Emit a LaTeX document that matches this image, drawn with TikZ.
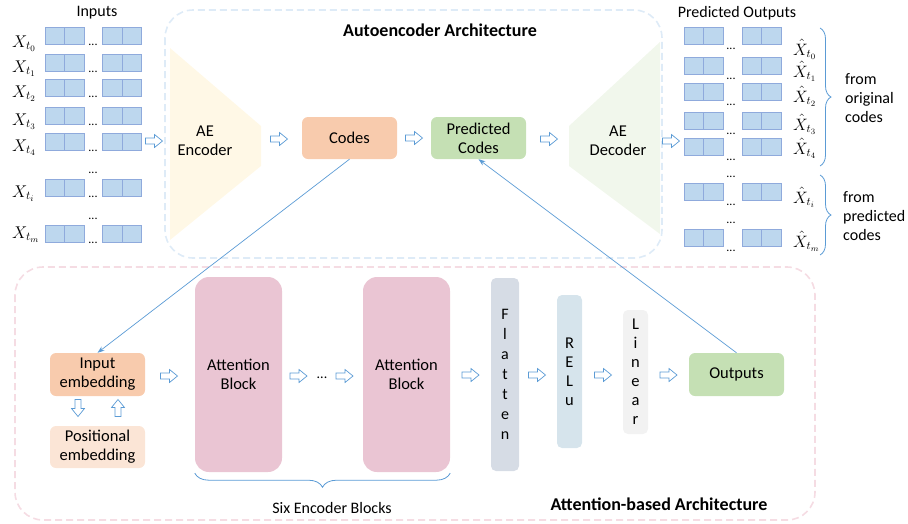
\documentclass[tikz,border=0pt]{standalone}
\usepackage{fix-cm}
\usepackage{fontspec}
\setmainfont{Carlito}
\usepackage{tikz}
\usetikzlibrary{positioning}
\usetikzlibrary{calc}
\usetikzlibrary{arrows.meta}
\usetikzlibrary{decorations.pathreplacing}

\definecolor{cellfill}{HTML}{BDD7EE}
\definecolor{celldraw}{HTML}{8FAADC}
\definecolor{lineblue}{HTML}{5B9BD5}
\definecolor{codesfill}{HTML}{F8CBAD}
\definecolor{greenfill}{HTML}{C5E0B4}
\definecolor{posfill}{HTML}{FBE5D6}
\definecolor{attfill}{HTML}{EAC5D3}
\definecolor{flatfill}{HTML}{D6DCE5}
\definecolor{relufill}{HTML}{D6E4EC}
\definecolor{linfill}{HTML}{F2F2F2}
\definecolor{encfill}{HTML}{FFF8E6}
\definecolor{decfill}{HTML}{F1F7EC}
\definecolor{aeframe}{HTML}{DEEBF7}
\definecolor{attframe}{HTML}{F5DCE3}

\tikzset{
  box/.style={rounded corners=6pt, inner sep=0pt, align=center,
    font=\fontsize{16.5}{19}\selectfont},
  cell/.style={fill=cellfill, draw=celldraw, line width=0.8pt},
  frame/.style={dash pattern=on 7pt off 4pt, line width=1.6pt, rounded corners=28pt},
  hollow/.pic={\draw[lineblue, fill=white, line width=0.7pt, line join=miter]
    (-8.5,-3) -- (0.5,-3) -- (0.5,-6.5) -- (8.5,0) -- (0.5,6.5) -- (0.5,3) -- (-8.5,3) -- cycle;},
  link/.style={lineblue, line width=0.7pt, -{Stealth[length=7pt,width=5pt]}},
  curly/.style={lineblue, line width=0.8pt, decorate, decoration={brace, amplitude=#1}},
  txt/.style={inner sep=0pt, font=\fontsize{16}{19}\selectfont},
  dots/.style={inner sep=0pt, font=\fontsize{12}{14}\selectfont},
  mathlab/.style={inner sep=0pt, anchor=base west, font=\fontsize{#1}{20}\selectfont},
}

\begin{document}
\begin{tikzpicture}[x=1pt, y=-1pt]
  \useasboundingbox (0,0) rectangle (908,523);

  % dashed frames
  \draw[frame, aeframe] (165,10) rectangle (662,258);
  \draw[frame, attframe] (15,267) rectangle (815,520);
  \node[font=\fontsize{18}{20}\selectfont\bfseries] (aetitle) at (440,30) {Autoencoder Architecture};
  \node[font=\fontsize{18}{20}\selectfont\bfseries] (atttitle) at (659,504) {Attention-based Architecture};

  % inputs
  \node[txt] (inputs) at (97,13) {Inputs};
  \foreach \ry/\lab/\base [count=\k] in {27/0/47, 54/1/72, 79/2/97, 107/3/125, 133/4/151, 179/i/197, 225/m/238} {
    \foreach \cx in {45,64.5,102.5,122}
      \draw[cell] (\cx,\ry) rectangle ++(19.5,17);
    \node[dots, anchor=base] (indots\k) at (93,\ry+18) {...};
    \node[mathlab=17] (inlab\k) at (12,\base) {$X_{t_\lab}$};
  }
  \node[dots, anchor=base] (ingap1) at (93,173) {...};
  \node[dots, anchor=base] (ingap2) at (93,219) {...};

  % predicted outputs
  \node[txt] (predout) at (737,13) {Predicted Outputs};
  \foreach \ry/\lab/\base [count=\k] in {27/0/55, 57/1/77, 83/2/102, 112/3/130, 138/4/154, 183/i/203, 229/m/247} {
    \foreach \cx in {684,703.5,742,761.5}
      \draw[cell] (\cx,\ry) rectangle ++(19.5,17);
    \node[dots, anchor=base] (outdots\k) at (731,\ry+22) {...};
    \node[mathlab=16.5] (outlab\k) at (793,\base) {$\hat{X}_{t_\lab}$};
  }
  \node[dots, anchor=base] (outgap1) at (731,177) {...};
  \node[dots, anchor=base] (outgap2) at (731,223) {...};
  \draw[curly=11pt] (820,28) -- (820,166);
  \draw[curly=11pt] (820,175) -- (820,255);
  \node[txt, anchor=west, align=left] (fromorig) at (845,98) {from\\original\\codes};
  \node[txt, anchor=west, align=left] (frompred) at (843,216) {from\\predicted\\codes};

  % autoencoder
  \fill[encfill] (170,48) -- (261,126) -- (261,166) -- (170,240) -- cycle;
  \fill[decfill] (569,126) -- (660,42) -- (660,234) -- (569,166) -- cycle;
  \node[box] (enc) at (205,141) {AE\\Encoder};
  \node[box] (dec) at (618,141) {AE\\Decoder};
  \node[box, fill=codesfill, minimum width=95pt, minimum height=42pt] (codes) at (349.5,138) {Codes};
  \node[box, fill=greenfill, minimum width=95pt, minimum height=42pt] (pred) at (478.5,138) {Predicted\\Codes};
  \pic at (154,141) {hollow};
  \pic at (279,139) {hollow};
  \pic at ($(codes.east)!0.5!(pred.west)$) {hollow};
  \pic at (549,139) {hollow};
  \pic at (671,141) {hollow};

  % attention part
  \node[box, fill=codesfill, minimum width=95pt, minimum height=43pt] (inemb) at (97.5,374.5) {Input\\embedding};
  \node[box, fill=posfill, minimum width=95pt, minimum height=42pt] (posemb) at (97.5,447) {Positional\\embedding};
  \pic[rotate=-90] at (78,408) {hollow};
  \pic[rotate=90] at (118,408) {hollow};
  \node[box, fill=attfill, rounded corners=14pt, minimum width=87pt, minimum height=195pt] (att1) at (238.5,374.5) {Attention\\Block};
  \node[box, fill=attfill, rounded corners=14pt, minimum width=87pt, minimum height=195pt] (att2) at (406.5,374.5) {Attention\\Block};
  \node[dots, font=\fontsize{14}{16}\selectfont] (attdots) at (322,378) {...};
  \node[box, fill=flatfill, rounded corners=5pt, minimum width=28pt, minimum height=193pt,
    font=\fontsize{16}{20}\selectfont] (flat) at (505,374.5) {F\\l\\a\\t\\t\\e\\n};
  \node[box, fill=relufill, rounded corners=5pt, minimum width=25pt, minimum height=153pt] (relu) at (569.5,371.5) {R\\E\\L\\u};
  \node[box, fill=linfill, rounded corners=5pt, minimum width=25pt, minimum height=124pt] (lin) at (635.5,372) {L\\i\\n\\e\\a\\r};
  \node[box, fill=greenfill, minimum width=95pt, minimum height=43pt] (outs) at (736.5,374.5) {Outputs};
  \pic at (169,376) {hollow};
  \pic at (298.5,376) {hollow};
  \pic at (344.5,376) {hollow};
  \pic at (470.5,375) {hollow};
  \pic at (537,375) {hollow};
  \pic at (603,375) {hollow};
  \pic at (668.5,375) {hollow};
  \draw[curly=14pt] ($(att2.south east)+(0,1)$) -- ($(att1.south west)+(0,1)$);
  \node[txt] (sixblocks) at (332,508) {Six Encoder Blocks};

  % links between the two parts
  \draw[link] (codes.south) -- (inemb.north);
  \draw[link] (outs.north) -- (pred.south);
\end{tikzpicture}
\end{document}
